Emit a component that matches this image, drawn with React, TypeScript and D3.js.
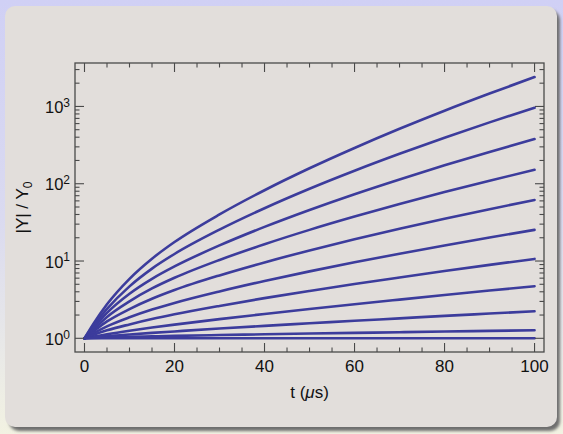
import React from "react";
import * as d3 from "d3";

// time axis (µs)
const tValues = [0, 2, 5, 10, 15, 20, 30, 40, 50, 60, 70, 80, 90, 100];
// decades (log10 of |Y|/Y0), one array per curve (top to bottom)
const curve1 = [0, 0.19, 0.44, 0.77, 1.03, 1.246, 1.603, 1.916, 2.2, 2.463, 2.711, 2.945, 3.167, 3.381];
const curve2 = [0, 0.165, 0.38, 0.672, 0.902, 1.091, 1.406, 1.683, 1.935, 2.168, 2.387, 2.595, 2.794, 2.983];
const curve3 = [0, 0.14, 0.33, 0.577, 0.77, 0.93, 1.202, 1.442, 1.661, 1.865, 2.056, 2.238, 2.412, 2.578];
const curve4 = [0, 0.115, 0.277, 0.479, 0.645, 0.783, 1.014, 1.217, 1.403, 1.575, 1.737, 1.892, 2.039, 2.18];
const curve5 = [0, 0.09, 0.218, 0.378, 0.511, 0.624, 0.814, 0.982, 1.137, 1.281, 1.417, 1.547, 1.671, 1.79];
const curve6 = [0, 0.066, 0.155, 0.272, 0.372, 0.458, 0.607, 0.742, 0.866, 0.983, 1.094, 1.201, 1.304, 1.403];
const curve7 = [0, 0.045, 0.103, 0.18, 0.249, 0.31, 0.419, 0.52, 0.613, 0.702, 0.787, 0.87, 0.95, 1.027];
const curve8 = [0, 0.023, 0.053, 0.098, 0.139, 0.177, 0.248, 0.315, 0.379, 0.441, 0.501, 0.56, 0.618, 0.674];
const curve9 = [0, 0.012, 0.028, 0.05, 0.07, 0.089, 0.126, 0.161, 0.194, 0.227, 0.258, 0.29, 0.32, 0.35];
const curve10 = [0, 0.005, 0.01, 0.019, 0.025, 0.031, 0.042, 0.052, 0.062, 0.07, 0.079, 0.088, 0.096, 0.104];
const curve11 = [0, 0, 0, 0, 0, 0, 0, 0, 0, 0, 0, 0, 0, 0];
const curves = [curve1, curve2, curve3, curve4, curve5, curve6, curve7, curve8, curve9, curve10, curve11];

const xMajorTicks = [0, 20, 40, 60, 80, 100];
const yDecades = [0, 1, 2, 3];

const W = 563;
const H = 434;
const L = 75, R = 544, TOP = 63, BOT = 352;

export default function App() {
  const x = d3.scaleLinear().domain([-2.11, 102.1]).range([L, R]);
  const y = d3.scaleLog().domain([0.665, 3648]).range([BOT, TOP]);

  const line = d3
    .line<[number, number]>()
    .x((d) => x(d[0]))
    .y((d) => y(Math.pow(10, d[1])))
    .curve(d3.curveMonotoneX);

  const xMinor: number[] = [];
  for (let t = 0; t <= 100; t += 5) if (t % 20 !== 0) xMinor.push(t);
  const yMinor: number[] = [];
  for (let d = 0; d <= 3; d++)
    for (let k = 2; k <= 9; k++) {
      const v = k * Math.pow(10, d);
      if (v <= 3648) yMinor.push(v);
    }

  const font = "'Liberation Sans', Arial, Helvetica, sans-serif";
  const axisColor = "#4a4a4a";
  const lineColor = "#3c3c9c";

  return (
    <svg width={W} height={H} style={{ position: "absolute", left: 0, top: 0 }} fontFamily={font}>
      <defs>
        <linearGradient id="bg" x1="0" y1="0" x2="0" y2="1">
          <stop offset="0%" stopColor="#d0d0f5" />
          <stop offset="50%" stopColor="#dadaf0" />
          <stop offset="100%" stopColor="#f2f2e2" />
        </linearGradient>
        <filter id="blur" x="-5%" y="-5%" width="110%" height="110%">
          <feGaussianBlur stdDeviation="1.6" />
        </filter>
      </defs>
      <rect x={0} y={0} width={W} height={H} fill="url(#bg)" />
      <rect x={9} y={10} width={551} height={421} rx={10} fill="#6e6e6e" filter="url(#blur)" />
      <rect x={5} y={6} width={552} height={421} rx={10} fill="#e2dedb" />

      {/* curves */}
      <g>
        {curves.map((c, i) => (
          <path
            key={i}
            d={line(tValues.map((t, j) => [t, c[j]] as [number, number])) || ""}
            fill="none"
            stroke={lineColor}
            strokeWidth={2.6}
            strokeLinecap="round"
          />
        ))}
      </g>

      {/* frame */}
      <rect x={L} y={TOP} width={R - L} height={BOT - TOP} fill="none" stroke={axisColor} strokeWidth={1.3} />

      {/* x ticks */}
      {xMajorTicks.map((t) => (
        <g key={"xM" + t}>
          <line x1={x(t)} x2={x(t)} y1={BOT} y2={BOT - 9} stroke={axisColor} strokeWidth={1.1} />
          <line x1={x(t)} x2={x(t)} y1={TOP} y2={TOP + 9} stroke={axisColor} strokeWidth={1.1} />
          <text x={x(t)} y={372} fontSize={17} textAnchor="middle" fill="#111">
            {t}
          </text>
        </g>
      ))}
      {xMinor.map((t) => (
        <g key={"xm" + t}>
          <line x1={x(t)} x2={x(t)} y1={BOT} y2={BOT - 4.5} stroke={axisColor} strokeWidth={1.1} />
          <line x1={x(t)} x2={x(t)} y1={TOP} y2={TOP + 4.5} stroke={axisColor} strokeWidth={1.1} />
        </g>
      ))}

      {/* y ticks */}
      {yDecades.map((d) => {
        const yy = y(Math.pow(10, d));
        return (
          <g key={"yM" + d}>
            <line x1={L} x2={L + 9} y1={yy} y2={yy} stroke={axisColor} strokeWidth={1.1} />
            <line x1={R} x2={R - 9} y1={yy} y2={yy} stroke={axisColor} strokeWidth={1.1} />
            <text x={70} y={yy + 6.7} textAnchor="end" fill="#111" fontSize={16.5}>
              10
              <tspan fontSize={12} dy={-6.5}>
                {d}
              </tspan>
            </text>
          </g>
        );
      })}
      {yMinor.map((v) => (
        <g key={"ym" + v}>
          <line x1={L} x2={L + 4.5} y1={y(v)} y2={y(v)} stroke={axisColor} strokeWidth={1.1} />
          <line x1={R} x2={R - 4.5} y1={y(v)} y2={y(v)} stroke={axisColor} strokeWidth={1.1} />
        </g>
      ))}

      {/* axis titles */}
      <text x={(L + R) / 2} y={398} textAnchor="middle" fontSize={17} fill="#111">
        t (<tspan fontStyle="italic">μ</tspan>s)
      </text>
      <text
        transform={`translate(28, ${(TOP + BOT) / 2}) rotate(-90)`}
        textAnchor="middle"
        fontSize={17}
        fill="#111"
      >
        |Y| / Y
        <tspan fontSize={12} dy={4}>
          0
        </tspan>
      </text>
    </svg>
  );
}
